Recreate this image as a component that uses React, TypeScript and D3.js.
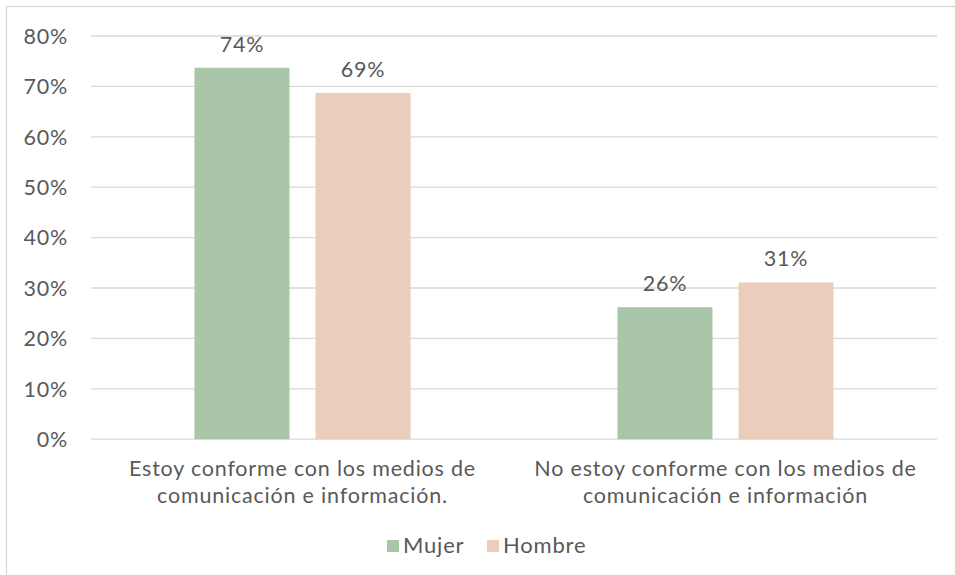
import React from "react";
import * as d3 from "d3";

const categories: string[][] = [
  ["Estoy conforme con los medios de", "comunicación e información."],
  ["No estoy conforme con los medios de", "comunicación e información"],
];
const seriesNames = ["Mujer", "Hombre"];
const mujer = [73.7, 26.2];
const hombre = [68.7, 31.1];
const labels = [["74%", "26%"], ["69%", "31%"]];
const yTicks = [0, 10, 20, 30, 40, 50, 60, 70, 80];
const colors = ["#a9c6a8", "#ebcdbc"];

const W = 955;
const H = 575;
const FONT = "Lato, 'Open Sans', sans-serif";
const TXT = "#595959";
const FS = 21.5;
const LS = 0.8;

export default function App() {
  const left = 91, right = 937, top = 36, bottom = 439.2;
  const x = d3.scaleBand<number>().domain([0, 1]).range([left, right]);
  const y = d3.scaleLinear().domain([0, 80]).range([bottom, top]);
  const inner = d3.scaleBand<number>().domain([0, 1]).range([0, x.bandwidth()]).paddingInner(0.215).paddingOuter(0.855);
  const series = [mujer, hombre];
  return (
    <svg width={W} height={H} style={{ position: "absolute", left: 0, top: 0, background: "#fff" }} fontFamily={FONT} letterSpacing={LS}>
      <rect x={6.5} y={6.5} width={W + 10} height={H + 10} fill="#fff" stroke="#d9d9d9" strokeWidth={1.3} />
      {yTicks.map((t) => (
        <g key={t}>
          <line x1={left} x2={right} y1={y(t)} y2={y(t)} stroke="#d9d9d9" strokeWidth={1.3} />
          <text x={68} y={y(t)} dy="0.36em" textAnchor="end" fontSize={FS} fill={TXT}>{t}%</text>
        </g>
      ))}
      {series.map((vals, si) =>
        vals.map((v, ci) => {
          const bx = (x(ci) as number) + (inner(si) as number);
          return (
            <g key={`${si}-${ci}`}>
              <rect x={bx} y={y(v)} width={inner.bandwidth()} height={bottom - y(v)} fill={colors[si]} />
              <text x={bx + inner.bandwidth() / 2} y={y(v) - 16} textAnchor="middle" fontSize={FS} fill={TXT}>{labels[si][ci]}</text>
            </g>
          );
        })
      )}
      {categories.map((lines, ci) => (
        <text key={ci} textAnchor="middle" fontSize={FS} fill={TXT}>
          {lines.map((l, li) => (
            <tspan key={li} x={(x(ci) as number) + x.bandwidth() / 2} y={476 + li * 26.5}>{l}</tspan>
          ))}
        </text>
      ))}
      {seriesNames.map((n, i) => {
        const lx = [387, 487][i];
        return (
          <g key={n}>
            <rect x={lx} y={540} width={12} height={12} fill={colors[i]} />
            <text x={lx + 16} y={553} fontSize={22} fill={TXT}>{n}</text>
          </g>
        );
      })}
    </svg>
  );
}
